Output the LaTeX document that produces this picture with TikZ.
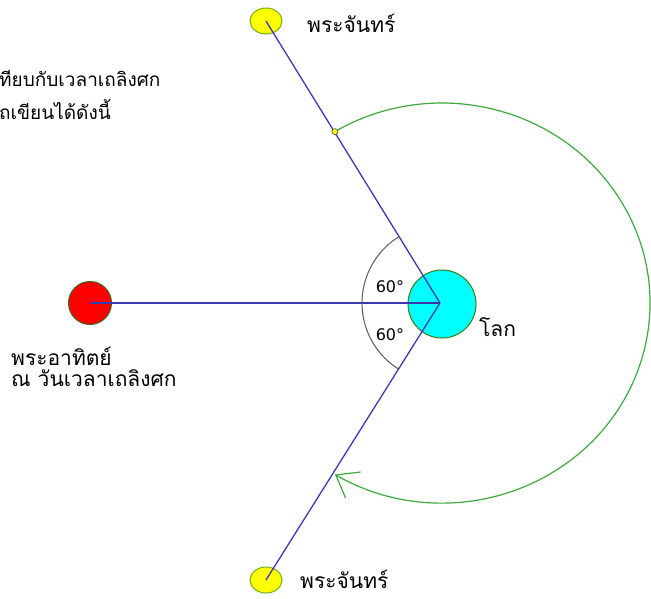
\documentclass[tikz,border=0pt]{standalone}
\usepackage{fontspec}
\newfontfamily\thaifont[Script=Thai]{Loma}
\newfontfamily\degfont{DejaVu Sans}
\usetikzlibrary{arrows.meta,shapes.geometric}
\definecolor{rim}{HTML}{4C9A1C}
\definecolor{ray}{HTML}{3A3AAE}
\definecolor{orbitgreen}{HTML}{3CAA3C}
\definecolor{earthfill}{HTML}{00FFFF}
\definecolor{sunfill}{HTML}{FF0000}
\definecolor{moonfill}{HTML}{FFFF00}

\begin{document}
\begin{tikzpicture}[x=1pt,y=-1pt,
  body/.style={circle,draw=rim,line width=1pt,inner sep=0pt},
  moon/.style={ellipse,draw=rim!80!yellow,line width=1pt,fill=moonfill,inner sep=0pt,minimum width=32pt,minimum height=26pt},
  ray/.style={draw=ray,line width=1.3pt},
  label/.style={font=\thaifont\fontsize{21}{25}\selectfont,inner sep=0pt,anchor=base west},
  note/.style={font=\thaifont\fontsize{19}{24}\selectfont,inner sep=0pt,anchor=base west},
  deg/.style={font=\degfont\fontsize{16}{18}\selectfont,inner sep=0pt,anchor=base}]
  \useasboundingbox (0,0) rectangle (651,598);

  % sun, earth and the two moons
  \node[body,fill=sunfill,draw=rim!70!black,minimum size=43pt] (sun) at (90,303) {};
  \node[body,fill=earthfill,draw=rim!80!black,minimum size=68pt] (earth) at (442,304) {};
  \node[moon] (moonA) at (266,21) {};
  \node[moon] (moonB) at (266,580) {};
  \coordinate (hub) at (440,303);

  % lines from the earth
  \draw[ray] (sun.center) -- (hub);
  \draw[ray] (hub) -- (moonA.center);
  \draw[ray] (hub) -- (moonB.center);

  % 60 degree angles
  \draw[black!65,line width=1pt] (hub) ++(122:78pt) arc[start angle=122,end angle=238,radius=78pt];
  \node[deg] (angA) at (390,292) {60°};
  \node[deg] (angB) at (390,340) {60°};

  % moon going round
  \coordinate (orbitstart) at (334.9,131.6);
  \draw[orbitgreen,line width=1.2pt,-{Straight Barb[length=20pt,width=30pt,line width=1.2pt]}]
    (orbitstart) arc[start angle=121,end angle=-121,x radius=208pt,y radius=200pt];
  \node[circle,fill=moonfill,draw=black!70,line width=0.6pt,inner sep=0pt,minimum size=6pt] (dot) at (orbitstart) {};

  % texts
  \node[label] (moonAtext) at (307,32) {พระจันทร์};
  \node[label] (moonBtext) at (300,588) {พระจันทร์};
  \node[label] (earthtext) at (479,336) {โลก};
  \node[label] (suntextA) at (11,365) {พระอาทิตย์};
  \node[label] (suntextB) at (11,386) {ณ วันเวลาเถลิงศก};
  \node[note] (noteA) at (-1,86) {ทียบกับเวลาเถลิงศก};
  \node[note] (noteB) at (-1,119) {ถเขียนได้ดังนี้};
\end{tikzpicture}
\end{document}
